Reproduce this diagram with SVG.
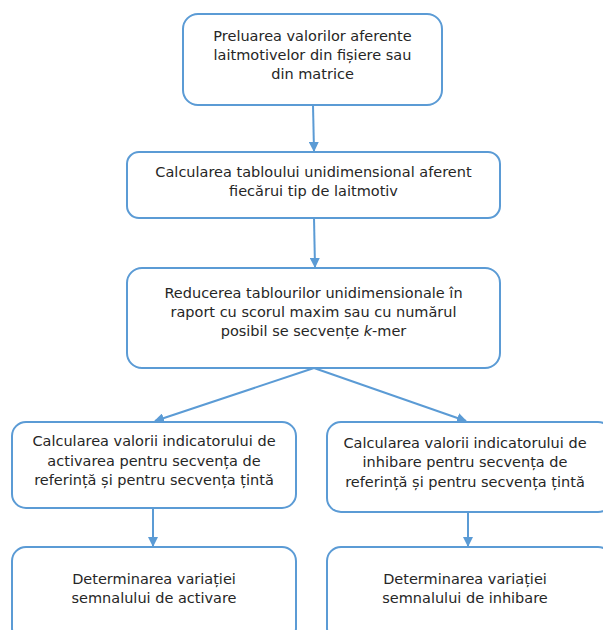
<svg xmlns="http://www.w3.org/2000/svg" width="603" height="630" viewBox="0 0 603 630">
<style>
.box{fill:#fff;stroke:#5B9BD5;stroke-width:2}
.t{font-family:"DejaVu Sans",Verdana,sans-serif;font-size:14.5px;fill:#262626;text-anchor:middle}
.c{stroke:#5B9BD5;stroke-width:2;fill:none;marker-end:url(#ah)}
</style>
<defs>
<marker id="ah" viewBox="0 0 10 10" refX="9" refY="5" markerWidth="5" markerHeight="5" orient="auto" markerUnits="strokeWidth">
<path d="M0,0 L10,5 L0,10 z" fill="#5B9BD5"/>
</marker>
</defs>
<rect width="603" height="630" fill="#fff"/>
<g id="connectors">
<line class="c" x1="313" y1="105" x2="314" y2="151"/>
<line class="c" x1="314" y1="218" x2="315" y2="267"/>
<line class="c" x1="314" y1="368" x2="155" y2="421"/>
<line class="c" x1="314" y1="368" x2="466" y2="421"/>
<line class="c" x1="153" y1="508" x2="153" y2="546"/>
<line class="c" x1="468" y1="512" x2="468" y2="546"/>
</g>
<g id="n1">
<rect class="box" x="183" y="14" width="259" height="91" rx="15"/>
<text class="t" x="312.5" y="41">Preluarea valorilor aferente</text>
<text class="t" x="312.5" y="60">laitmotivelor din fișiere sau</text>
<text class="t" x="312.5" y="79">din matrice</text>
</g>
<g id="n2">
<rect class="box" x="127" y="152" width="373" height="66" rx="12"/>
<text class="t" x="313.5" y="177">Calcularea tabloului unidimensional aferent</text>
<text class="t" x="313.5" y="196">fiecărui tip de laitmotiv</text>
</g>
<g id="n3">
<rect class="box" x="127" y="268" width="373" height="100" rx="15"/>
<text class="t" x="313.5" y="298">Reducerea tablourilor unidimensionale în</text>
<text class="t" x="313.5" y="317">raport cu scorul maxim sau cu numărul</text>
<text class="t" x="313.5" y="336">posibil se secvențe <tspan font-style="italic">k</tspan>-mer</text>
</g>
<g id="n4">
<rect class="box" x="12" y="422" width="284" height="86" rx="14"/>
<text class="t" x="154" y="446">Calcularea valorii indicatorului de</text>
<text class="t" x="154" y="466">activarea pentru secvența de</text>
<text class="t" x="154" y="485">referință și pentru secvența țintă</text>
</g>
<g id="n5">
<rect class="box" x="327" y="422" width="285" height="90" rx="14"/>
<text class="t" x="465" y="448">Calcularea valorii indicatorului de</text>
<text class="t" x="465" y="467">inhibare pentru secvența de</text>
<text class="t" x="465" y="487">referință și pentru secvența țintă</text>
</g>
<g id="n6">
<rect class="box" x="12" y="547" width="284" height="95" rx="14"/>
<text class="t" x="154" y="584">Determinarea variației</text>
<text class="t" x="154" y="603">semnalului de activare</text>
</g>
<g id="n7">
<rect class="box" x="327" y="547" width="285" height="95" rx="14"/>
<text class="t" x="465" y="584">Determinarea variației</text>
<text class="t" x="465" y="603">semnalului de inhibare</text>
</g>
</svg>
